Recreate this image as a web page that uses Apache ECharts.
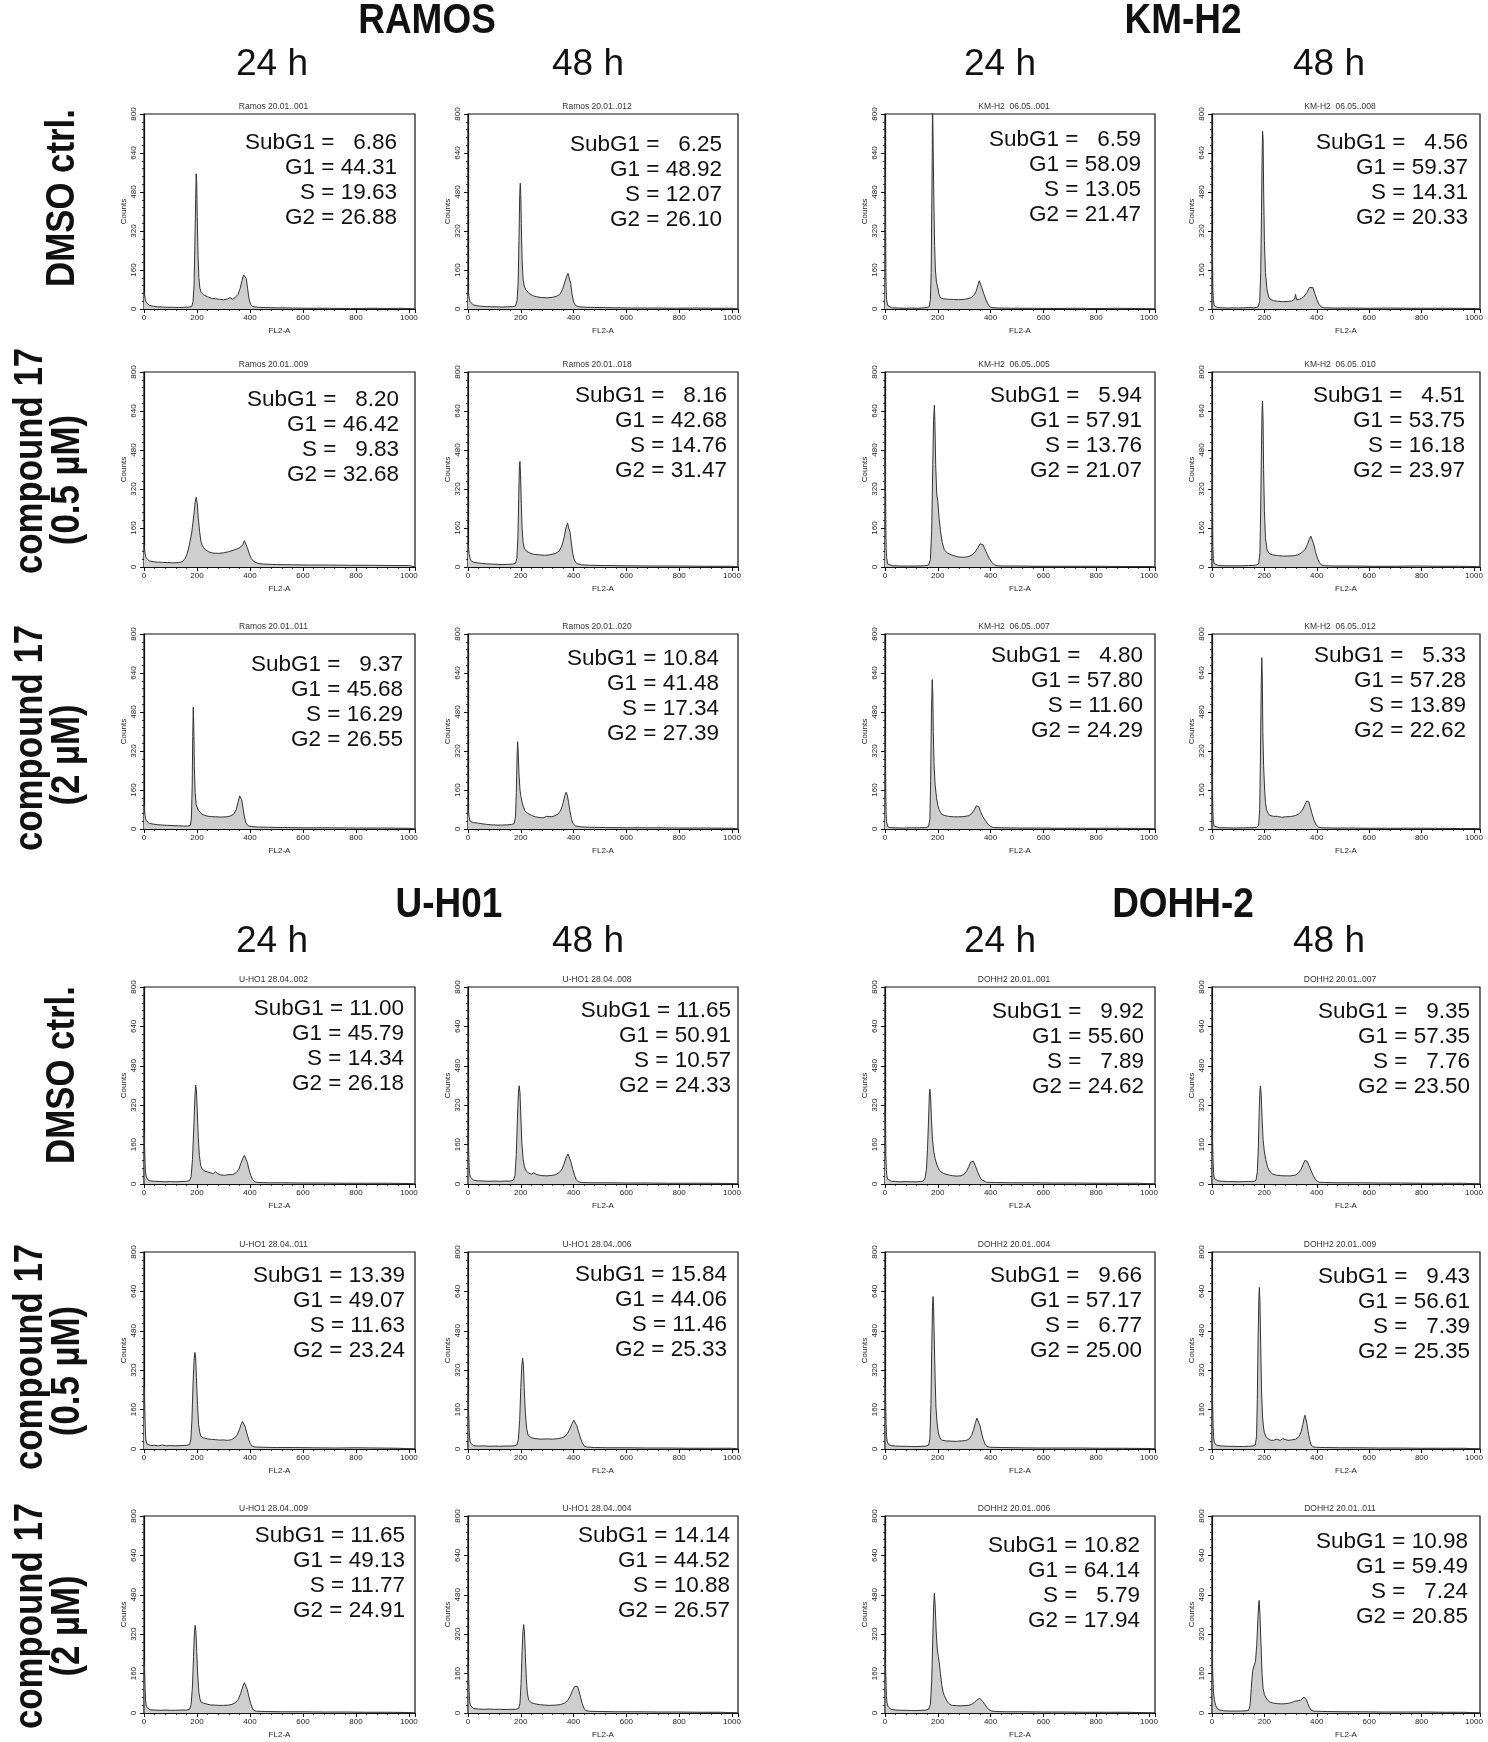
<!DOCTYPE html>
<html><head><meta charset="utf-8">
<script src="https://cdn.jsdelivr.net/npm/echarts@6/dist/echarts.min.js"></script>
<style>html,body{margin:0;padding:0;background:#fff}#c{width:1488px;height:1742px}</style>
</head><body><div id="c"></div><script>
// ---------------- DATA ----------------
const cellLines = ['RAMOS', 'KM-H2', 'U-H01', 'DOHH-2'];
const timeLabels = ['24 h', '48 h'];
const rowLabels = [['DMSO ctrl.'], ['compound 17', '(0.5 µM)'], ['compound 17', '(2 µM)']];
const phaseNames = ['SubG1', 'G1', 'S', 'G2'];
const xTicks = [0, 200, 400, 600, 800, 1000];
const yTicks = [0, 160, 320, 480, 640, 800];

// percentages per panel: order DMSO 24h, DMSO 48h, 0.5uM 24h, 0.5uM 48h, 2uM 24h, 2uM 48h
const ramosPct = [[6.86,44.31,19.63,26.88],[6.25,48.92,12.07,26.10],[8.20,46.42,9.83,32.68],[8.16,42.68,14.76,31.47],[9.37,45.68,16.29,26.55],[10.84,41.48,17.34,27.39]];
const kmh2Pct  = [[6.59,58.09,13.05,21.47],[4.56,59.37,14.31,20.33],[5.94,57.91,13.76,21.07],[4.51,53.75,16.18,23.97],[4.80,57.80,11.60,24.29],[5.33,57.28,13.89,22.62]];
const uh01Pct  = [[11.00,45.79,14.34,26.18],[11.65,50.91,10.57,24.33],[13.39,49.07,11.63,23.24],[15.84,44.06,11.46,25.33],[11.65,49.13,11.77,24.91],[14.14,44.52,10.88,26.57]];
const dohhPct  = [[9.92,55.60,7.89,24.62],[9.35,57.35,7.76,23.50],[9.66,57.17,6.77,25.00],[9.43,56.61,7.39,25.35],[10.82,64.14,5.79,17.94],[10.98,59.49,7.24,20.85]];

const ramosFiles = ['Ramos 20.01..001','Ramos 20.01..012','Ramos 20.01..009','Ramos 20.01..018','Ramos 20.01..011','Ramos 20.01..020'];
const kmh2Files  = ['KM-H2  06.05..001','KM-H2  06.05..008','KM-H2  06.05..005','KM-H2  06.05..010','KM-H2  06.05..007','KM-H2  06.05..012'];
const uh01Files  = ['U-HO1 28.04..002','U-HO1 28.04..008','U-HO1 28.04..011','U-HO1 28.04..006','U-HO1 28.04..009','U-HO1 28.04..004'];
const dohhFiles  = ['DOHH2 20.01..001','DOHH2 20.01..007','DOHH2 20.01..004','DOHH2 20.01..009','DOHH2 20.01..006','DOHH2 20.01..011'];

// histograms [FL2-A channel, counts]
const ramos_dmso_24 = [[0,70],[2,75],[4,42],[8,28],[12,20],[20,15],[35,11],[50,9],[70,8],[90,7],[110,7],[130,6],[150,7],[170,8],[180,10],[185,30],[189,100],[192,260],[195,450],[197,555],[199,520],[201,380],[204,220],[207,130],[211,85],[216,68],[225,58],[240,50],[255,44],[270,42],[285,40],[300,38],[315,41],[325,46],[335,40],[345,48],[355,60],[363,85],[370,118],[376,140],[381,146],[386,125],[391,85],[396,45],[402,20],[410,10],[430,7],[460,6],[500,5],[560,4],[620,3],[700,3],[780,2],[860,3],[920,2],[960,3],[1000,2],[1023,0]];
const ramos_dmso_48 = [[0,85],[2,80],[4,45],[8,30],[12,22],[20,17],[35,13],[50,11],[70,10],[90,9],[110,9],[130,8],[150,9],[170,10],[180,12],[186,35],[190,110],[193,280],[196,470],[198,516],[200,470],[202,350],[205,200],[209,120],[214,90],[220,78],[230,65],[245,55],[260,50],[280,47],[300,46],[320,48],[335,52],[348,60],[358,80],[366,108],[373,132],[379,146],[384,140],[389,105],[394,62],[400,30],[408,14],[420,9],[450,7],[500,6],[560,5],[620,4],[700,4],[780,3],[860,4],[940,3],[1000,3],[1023,0]];
const ramos_c05_24 = [[0,90],[2,85],[4,55],[8,38],[12,30],[20,25],[35,22],[50,20],[70,19],[90,18],[110,17],[130,18],[145,22],[155,35],[163,55],[171,90],[180,140],[188,210],[193,265],[197,286],[201,260],[205,200],[210,145],[215,105],[220,88],[230,72],[245,62],[260,57],[280,56],[300,58],[320,63],[340,70],[355,76],[365,82],[373,92],[379,108],[384,100],[390,80],[397,55],[405,35],[415,22],[430,15],[450,12],[500,10],[560,9],[620,8],[700,8],[780,7],[860,7],[940,6],[1000,6],[1023,0]];
const ramos_c05_48 = [[0,100],[2,95],[4,55],[8,35],[12,26],[20,20],[35,17],[50,15],[70,13],[90,12],[110,11],[130,10],[150,11],[170,12],[180,15],[185,35],[189,120],[192,280],[195,420],[197,433],[199,380],[202,260],[205,160],[209,100],[214,75],[222,65],[235,57],[250,52],[270,50],[290,48],[310,50],[330,55],[345,65],[355,85],[364,120],[371,160],[377,180],[382,175],[387,140],[392,95],[397,55],[403,28],[412,14],[430,9],[460,7],[520,6],[600,5],[700,4],[800,4],[900,3],[1000,3],[1023,0]];
const ramos_c2_24 = [[0,99],[2,92],[4,55],[8,35],[12,28],[20,23],[35,20],[50,18],[70,16],[90,15],[110,14],[130,13],[150,12],[165,12],[175,15],[179,45],[182,180],[184,380],[186,500],[188,420],[190,260],[193,150],[197,100],[203,82],[210,70],[220,60],[235,54],[250,51],[270,50],[290,49],[310,50],[325,53],[338,60],[348,80],[355,110],[361,136],[365,138],[369,120],[374,85],[379,50],[385,25],[392,14],[405,10],[430,8],[470,7],[530,6],[600,5],[700,5],[800,4],[900,4],[1000,3],[1023,0]];
const ramos_c2_48 = [[0,86],[2,80],[4,50],[8,32],[12,27],[20,26],[35,25],[50,22],[70,19],[90,17],[110,16],[130,16],[150,17],[165,19],[175,22],[180,50],[183,150],[186,300],[188,358],[190,320],[193,230],[197,160],[200,137],[205,110],[210,90],[215,76],[225,65],[240,56],[255,50],[270,47],[285,46],[298,52],[305,48],[318,50],[330,55],[342,62],[352,78],[360,105],[367,138],[372,151],[376,140],[381,110],[386,75],[392,42],[398,22],[408,12],[425,9],[460,7],[520,6],[600,5],[700,5],[800,4],[900,4],[1000,3],[1023,0]];

const kmh2_dmso_24 = [[0,594],[1,594],[2,375],[3,150],[4,86],[6,40],[10,15],[15,8],[25,5],[50,4],[80,3],[100,4],[120,3],[140,4],[160,6],[168,10],[172,40],[175,150],[177,400],[179,620],[180,880],[182,880],[183,620],[185,450],[188,260],[191,160],[195,110],[200,86],[205,60],[210,46],[220,42],[240,40],[260,39],[280,38],[300,40],[315,42],[328,48],[338,58],[346,75],[352,98],[357,116],[361,110],[366,90],[372,70],[380,45],[388,25],[396,10],[405,6],[430,4],[480,3],[560,3],[640,2],[720,3],[800,2],[880,3],[960,2],[1023,0]];
const kmh2_dmso_48 = [[0,312],[1,312],[2,200],[3,80],[5,40],[8,15],[12,8],[20,6],[40,5],[60,4],[80,5],[100,4],[120,5],[140,6],[160,5],[175,8],[182,30],[186,150],[189,400],[191,600],[193,730],[195,700],[197,500],[200,281],[204,150],[210,80],[216,50],[222,40],[235,34],[250,32],[270,30],[290,31],[305,33],[315,40],[319,60],[323,38],[335,40],[350,50],[362,68],[372,88],[379,96],[385,88],[392,65],[400,40],[408,20],[417,8],[430,5],[470,4],[530,4],[600,3],[680,4],[760,3],[840,3],[920,3],[1000,2],[1023,0]];
const kmh2_c05_24 = [[0,480],[1,480],[2,310],[3,150],[4,80],[6,40],[10,12],[15,7],[30,5],[60,4],[90,4],[120,4],[150,5],[165,8],[172,30],[177,150],[181,420],[184,600],[187,664],[189,600],[192,420],[196,300],[200,270],[205,200],[210,150],[217,100],[225,70],[237,57],[250,50],[265,45],[280,41],[300,40],[315,42],[330,50],[342,62],[352,80],[360,95],[366,100],[371,92],[378,75],[386,55],[395,35],[405,18],[415,9],[425,5],[450,4],[500,4],[580,3],[660,3],[740,3],[820,3],[900,2],[1000,2],[1023,0]];
const kmh2_c05_48 = [[0,433],[1,433],[2,250],[3,81],[5,35],[8,14],[12,8],[25,6],[50,5],[80,5],[110,5],[140,6],[165,7],[178,12],[183,60],[186,250],[189,500],[191,640],[193,680],[195,600],[197,400],[200,232],[204,120],[210,70],[218,56],[230,50],[250,47],[270,45],[290,45],[310,46],[328,50],[342,58],[355,72],[364,92],[371,112],[377,127],[382,120],[388,95],[395,62],[403,35],[410,18],[418,8],[430,5],[470,4],[540,4],[620,3],[700,3],[780,4],[860,3],[940,3],[1000,2],[1023,0]];
const kmh2_c2_24 = [[0,402],[1,402],[2,241],[3,120],[4,60],[6,30],[10,10],[18,6],[40,5],[70,4],[100,5],[130,5],[155,6],[165,10],[170,40],[173,200],[176,480],[179,613],[181,560],[183,400],[186,260],[190,181],[195,130],[200,98],[205,80],[215,60],[228,55],[240,52],[260,50],[280,50],[300,51],[318,55],[330,65],[340,82],[346,95],[350,100],[355,92],[362,72],[370,52],[380,35],[390,20],[400,10],[410,6],[440,5],[500,4],[580,4],[660,3],[740,3],[820,3],[900,3],[1000,2],[1023,0]];
const kmh2_c2_48 = [[0,261],[1,261],[2,150],[3,70],[5,30],[8,12],[14,7],[30,5],[60,5],[90,4],[120,5],[150,5],[170,7],[178,15],[182,80],[185,300],[188,600],[190,703],[192,620],[194,400],[197,261],[201,160],[204,110],[208,80],[214,65],[220,56],[235,52],[250,52],[265,48],[280,50],[300,51],[318,55],[332,62],[345,78],[355,100],[361,115],[365,120],[369,112],[375,90],[382,62],[390,35],[398,16],[406,8],[420,5],[460,4],[520,4],[600,3],[680,3],[760,3],[840,3],[920,2],[1000,2],[1023,0]];

const uh01_dmso_24 = [[0,212],[1,212],[2,150],[4,80],[6,45],[9,28],[14,18],[22,13],[40,11],[60,10],[80,9],[100,10],[120,9],[140,10],[160,11],[172,14],[178,30],[183,100],[188,230],[192,350],[195,402],[198,380],[201,300],[205,190],[209,115],[214,75],[220,60],[230,52],[240,49],[252,45],[262,42],[270,50],[274,55],[278,42],[290,37],[305,35],[315,38],[322,34],[335,38],[348,46],[358,60],[366,85],[373,105],[379,116],[384,110],[390,88],[396,60],[403,35],[410,18],[418,9],[430,6],[470,5],[520,5],[600,4],[680,4],[760,3],[840,3],[920,3],[1000,2],[1023,0]];
const uh01_dmso_48 = [[0,210],[1,210],[2,140],[4,75],[6,42],[9,28],[14,20],[22,15],[40,13],[60,12],[80,11],[100,12],[120,11],[140,12],[160,12],[172,15],[178,35],[183,120],[187,260],[191,370],[194,399],[197,370],[200,280],[204,170],[209,100],[214,70],[218,57],[228,45],[240,40],[248,45],[255,42],[265,37],[280,34],[300,33],[318,35],[332,38],[345,46],[356,60],[365,85],[373,110],[379,122],[384,115],[390,90],[397,60],[404,35],[410,18],[418,9],[430,6],[470,5],[530,5],[600,4],[680,4],[760,3],[840,3],[920,3],[1000,2],[1023,0]];
const uh01_c05_24 = [[0,255],[1,255],[2,214],[3,150],[5,80],[7,40],[10,22],[15,17],[25,14],[40,15],[55,13],[70,16],[85,13],[100,14],[120,13],[140,14],[160,15],[172,18],[177,40],[181,120],[185,260],[189,360],[192,392],[195,370],[198,290],[202,180],[206,100],[211,65],[215,51],[225,45],[240,41],[255,39],[270,38],[285,36],[300,37],[315,35],[330,38],[342,45],[352,58],[360,78],[366,98],[372,112],[377,108],[382,90],[388,65],[395,40],[401,22],[408,12],[420,8],[450,7],[500,6],[560,6],[640,5],[720,4],[800,5],[880,4],[960,3],[1023,0]];
const uh01_c05_48 = [[0,232],[1,232],[2,160],[4,85],[6,45],[9,25],[14,17],[22,13],[40,12],[60,13],[80,11],[100,12],[120,11],[140,12],[160,12],[175,13],[185,16],[191,40],[196,120],[200,250],[204,340],[207,369],[210,340],[213,250],[217,150],[222,85],[228,55],[238,47],[250,43],[265,41],[280,40],[300,41],[320,40],[340,42],[355,45],[368,52],[378,65],[387,85],[395,105],[401,117],[406,114],[412,95],[419,70],[426,45],[433,25],[440,12],[450,8],[480,6],[530,5],[600,5],[680,4],[760,4],[840,3],[920,3],[1000,3],[1023,0]];
const uh01_c2_24 = [[0,210],[1,210],[2,180],[4,100],[6,50],[9,25],[14,17],[22,13],[40,12],[60,11],[80,12],[100,11],[120,11],[140,12],[160,12],[172,15],[178,35],[183,110],[187,230],[190,320],[193,356],[196,330],[199,250],[203,150],[207,85],[211,58],[215,45],[225,40],[238,36],[250,33],[265,32],[280,31],[300,31],[318,32],[332,35],[345,42],[356,55],[365,80],[373,108],[379,123],[384,118],[390,95],[396,65],[403,38],[409,20],[415,10],[425,7],[460,6],[520,5],[600,5],[680,4],[760,4],[840,3],[920,3],[1000,2],[1023,0]];
const uh01_c2_48 = [[0,192],[1,192],[2,160],[4,90],[6,50],[9,30],[14,22],[22,18],[40,16],[60,15],[80,16],[100,15],[120,15],[140,14],[160,15],[180,15],[192,18],[197,40],[201,120],[205,250],[208,330],[211,359],[214,330],[217,240],[221,140],[225,80],[230,52],[240,42],[255,37],[270,34],[290,32],[310,31],[330,32],[350,34],[365,40],[377,50],[387,68],[396,92],[404,108],[410,114],[415,108],[421,88],[427,62],[433,38],[439,20],[446,10],[460,7],[500,6],[560,5],[640,5],[720,4],[800,4],[880,3],[960,3],[1023,0]];

const dohh_dmso_24 = [[0,297],[1,297],[2,236],[3,113],[5,60],[7,35],[10,20],[15,14],[25,11],[40,10],[60,9],[80,10],[100,9],[120,9],[135,10],[145,12],[152,25],[157,60],[161,140],[165,260],[168,360],[170,385],[173,350],[176,260],[180,180],[185,130],[190,103],[196,80],[203,62],[210,51],[222,43],[240,37],[255,34],[270,32],[285,33],[298,38],[308,50],[317,70],[324,88],[330,96],[335,92],[342,75],[350,52],[358,32],[365,18],[372,10],[385,7],[420,6],[480,5],[560,5],[640,4],[720,4],[800,3],[880,3],[960,3],[1023,0]];
const dohh_dmso_48 = [[0,223],[1,223],[2,170],[4,90],[6,45],[9,22],[14,16],[22,13],[40,11],[60,10],[80,10],[100,9],[120,10],[140,10],[160,11],[168,15],[173,50],[177,150],[180,290],[183,380],[185,398],[188,360],[191,270],[195,180],[200,130],[205,99],[212,70],[220,52],[230,41],[245,36],[260,34],[280,33],[300,33],[318,36],[330,45],[340,60],[348,80],[354,95],[358,99],[363,93],[370,75],[378,55],[386,35],[394,20],[402,11],[410,7],[430,6],[480,5],[560,5],[640,4],[720,4],[800,3],[880,3],[960,3],[1023,0]];
const dohh_c05_24 = [[0,271],[1,271],[2,200],[4,100],[6,50],[9,28],[14,18],[22,14],[40,12],[60,11],[80,11],[100,10],[120,10],[140,11],[155,12],[165,15],[170,40],[174,180],[177,400],[180,580],[182,619],[184,580],[187,430],[190,280],[193,170],[197,110],[202,65],[208,45],[215,36],[230,33],[250,32],[270,31],[290,33],[305,34],[318,40],[328,55],[336,80],[343,108],[348,125],[351,127],[355,118],[360,95],[366,65],[372,40],[379,20],[386,10],[400,7],[440,6],[500,5],[580,4],[660,4],[740,4],[820,3],[900,3],[1000,2],[1023,0]];
const dohh_c05_48 = [[0,271],[1,271],[2,190],[4,95],[6,50],[9,27],[14,18],[22,14],[40,12],[60,11],[80,11],[100,10],[120,10],[140,11],[155,12],[165,16],[170,50],[173,200],[176,450],[179,620],[181,656],[183,600],[186,420],[189,240],[193,130],[197,85],[200,66],[207,48],[214,40],[222,36],[235,35],[245,40],[250,36],[260,35],[270,42],[275,36],[290,35],[305,37],[320,40],[332,50],[340,70],[347,100],[352,128],[355,137],[358,130],[362,105],[367,70],[372,40],[377,20],[383,10],[395,7],[430,6],[490,5],[560,5],[640,4],[720,4],[800,3],[880,3],[960,3],[1023,0]];
const dohh_c2_24 = [[0,234],[1,234],[2,180],[4,110],[5,70],[8,40],[12,26],[15,20],[22,15],[40,12],[60,11],[80,11],[100,10],[120,10],[140,11],[155,12],[165,15],[172,35],[177,130],[181,300],[184,430],[187,486],[190,440],[194,330],[198,260],[202,230],[205,210],[210,160],[215,115],[220,85],[225,70],[235,48],[245,35],[255,31],[270,30],[285,29],[300,30],[315,31],[328,35],[338,42],[347,52],[354,58],[359,60],[364,56],[371,46],[379,34],[387,22],[395,13],[404,8],[420,6],[460,5],[520,5],[600,4],[680,4],[760,3],[840,3],[920,3],[1023,0]];
const dohh_c2_48 = [[0,295],[1,295],[2,181],[4,120],[6,80],[9,54],[14,30],[20,18],[30,12],[45,9],[65,8],[90,8],[110,8],[130,9],[140,11],[145,30],[150,100],[155,170],[160,190],[166,210],[171,280],[175,380],[178,440],[180,457],[183,400],[187,280],[191,160],[195,100],[200,75],[205,64],[212,52],[222,44],[235,40],[250,38],[265,37],[280,38],[295,40],[308,44],[316,48],[322,46],[330,50],[338,52],[345,58],[351,64],[355,65],[360,55],[366,38],[372,22],[378,12],[386,8],[400,7],[440,6],[500,5],[570,5],[650,4],[730,4],[810,4],[890,3],[960,3],[1023,0]];

// ---------------- LAYOUT ----------------
const FONT = '"Liberation Sans", Arial, Helvetica, sans-serif';
const colBox = [[144,271],[468,270],[885,270],[1212,268]];         // left, width
const rowBox = [[114,195],[372,195],[634,195],[987,197],[1252,197],[1516,197]]; // top, height
// annotation [right inset, first line centre below plot top], per panel in build order
const textOffsets = [[18,29],[16,31],[16,28],[11,24],[12,31],[19,25],
                     [14,26],[12,29],[13,24],[15,24],[12,22],[14,22],
                     [11,22],[7,24],[10,24],[11,23],[10,20],[8,20],
                     [11,25],[10,25],[13,24],[10,25],[15,30],[12,26]];
const LINE_STEP = 25;
const blockTitlePos = [[427,21],[1183,21],[449,905],[1183,905]];
const headerX = [272,588,1000,1329];
const headerY = [65,942];
const rowLabelY = [[[198]],[[461],[480]],[[738],[755]]];
const rowLabelYBottom = [[[1075]],[[1357],[1371]],[[1616],[1626]]];

const blocks = [
  {hist:[ramos_dmso_24,ramos_dmso_48,ramos_c05_24,ramos_c05_48,ramos_c2_24,ramos_c2_48], pct:ramosPct, files:ramosFiles},
  {hist:[kmh2_dmso_24,kmh2_dmso_48,kmh2_c05_24,kmh2_c05_48,kmh2_c2_24,kmh2_c2_48], pct:kmh2Pct, files:kmh2Files},
  {hist:[uh01_dmso_24,uh01_dmso_48,uh01_c05_24,uh01_c05_48,uh01_c2_24,uh01_c2_48], pct:uh01Pct, files:uh01Files},
  {hist:[dohh_dmso_24,dohh_dmso_48,dohh_c05_24,dohh_c05_48,dohh_c2_24,dohh_c2_48], pct:dohhPct, files:dohhFiles}
];

const grids = [], xAxes = [], yAxes = [], series = [], els = [];
const axisCol = '#111';
function txt(x, y, text, font, align, extra, fill) {
  const o = Object.assign({type:'text', x:x, y:y, silent:true, style:{
    text:text, font:font, fill:fill||'#111', textAlign:align||'center', align:align||'center',
    textVerticalAlign:'middle', verticalAlign:'middle'}}, extra||{});
  els.push(o);
}

let k = 0;
blocks.forEach((b, bi) => {
  const bx = bi % 2, by = Math.floor(bi / 2);
  txt(blockTitlePos[bi][0], blockTitlePos[bi][1], cellLines[bi], 'bold 42px ' + FONT, 'center', {scaleX:0.88});
  for (let c = 0; c < 2; c++) txt(headerX[bx*2+c], headerY[by], timeLabels[c], '37px ' + FONT);
  for (let r = 0; r < 3; r++) {
    for (let c = 0; c < 2; c++) {
      const p = r * 2 + c;
      const [left, width] = colBox[bx*2+c];
      const [top, height] = rowBox[by*3+r];
      grids.push({left:left, top:top, width:width, height:height, show:true,
        borderColor:axisCol, borderWidth:1.2, backgroundColor:'#fff'});
      xAxes.push({gridIndex:k, type:'value', min:0, max:1023, interval:200,
        axisLine:{show:true, onZero:false, lineStyle:{color:axisCol, width:1.2}},
        axisTick:{show:true, length:4, lineStyle:{color:axisCol, width:1}},
        minorTick:{show:true, splitNumber:5, length:2, lineStyle:{color:axisCol, width:0.8}},
        splitLine:{show:false},
        axisLabel:{fontSize:8, color:'#222', margin:5, fontFamily:FONT,
          formatter: v => xTicks.indexOf(v) >= 0 ? String(v) : ''},
        name:'FL2-A', nameLocation:'middle', nameGap:18,
        nameTextStyle:{fontSize:8, color:'#222', fontFamily:FONT}});
      yAxes.push({gridIndex:k, type:'value', min:0, max:800, interval:160,
        axisLine:{show:true, onZero:false, lineStyle:{color:axisCol, width:1.2}},
        axisTick:{show:true, length:4, lineStyle:{color:axisCol, width:1}},
        minorTick:{show:true, splitNumber:5, length:2, lineStyle:{color:axisCol, width:0.8}},
        splitLine:{show:false},
        axisLabel:{fontSize:8, color:'#222', margin:6, rotate:90, fontFamily:FONT,
          formatter: v => yTicks.indexOf(v) >= 0 ? String(v) : ''},
        name:'Counts', nameLocation:'middle', nameRotate:90, nameGap:16,
        nameTextStyle:{fontSize:8, color:'#222', fontFamily:FONT}});
      series.push({type:'line', xAxisIndex:k, yAxisIndex:k, data:b.hist[p],
        showSymbol:false, symbol:'none', clip:true, smooth:false,
        lineStyle:{color:'#333', width:1}, areaStyle:{color:'#cecece', opacity:1}, z:3});
      // file title above plot
      txt(left + width/2 - 6, top - 7, b.files[p], '8.5px ' + FONT, 'center', null, '#333');
      // percentages
      const off = textOffsets[k];
      b.pct[p].forEach((v, i) => {
        const s = phaseNames[i] + ' = ' + (v < 10 ? '  ' : '') + v.toFixed(2);
        txt(left + width - off[0], top + off[1] + i * LINE_STEP, s, '22.5px ' + FONT, 'right');
      });
      k++;
    }
    // row label (left column only)
    if (bx === 0) {
      const ys = by === 0 ? rowLabelY[r] : rowLabelYBottom[r];
      const lines = rowLabels[r];
      const xs = lines.length === 1 ? [63] : [31, 68];
      lines.forEach((t, li) => {
        txt(xs[li], ys[li][0], t, 'bold 40px ' + FONT, 'center', {rotation: Math.PI/2, scaleX:0.87});
      });
    }
  }
});

const chart = echarts.init(document.getElementById('c'), null, {renderer:'canvas'});
chart.setOption({
  animation:false, backgroundColor:'#fff',
  grid:grids, xAxis:xAxes, yAxis:yAxes, series:series,
  graphic:{elements:els}
});
</script></body></html>
